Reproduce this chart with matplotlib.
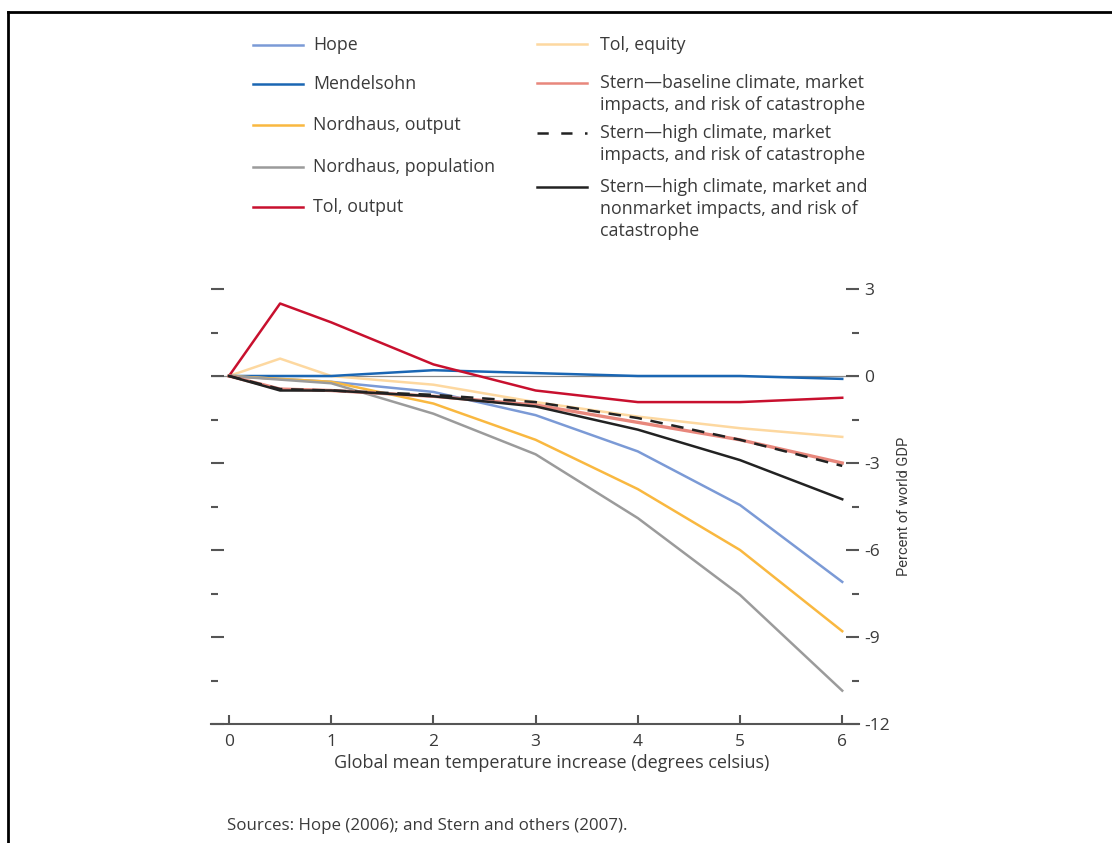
import matplotlib.pyplot as plt
from matplotlib.lines import Line2D
from matplotlib.ticker import MultipleLocator

plt.rcParams['font.family'] = ['Open Sans', 'DejaVu Sans']

# temperature points (degrees celsius)
temps = [0, 1, 2, 3, 4, 5, 6]
temps_half = [0, 0.5, 1, 2, 3, 4, 5, 6]

# percent of world GDP
hope = [0, -0.2, -0.55, -1.35, -2.6, -4.45, -7.1]
mendelsohn = [0, 0, 0.2, 0.1, 0, 0, -0.1]
nordhaus_output = [0, -0.2, -0.95, -2.2, -3.9, -6.0, -8.8]
nordhaus_population = [0, -0.25, -1.3, -2.7, -4.9, -7.55, -10.85]
tol_output = [0, 2.5, 1.85, 0.4, -0.5, -0.9, -0.9, -0.75]
tol_equity = [0, 0.6, 0, -0.3, -0.9, -1.4, -1.8, -2.1]
stern_baseline = [0, -0.45, -0.5, -0.7, -1.0, -1.6, -2.2, -3.0]
stern_high_market = [0, -0.45, -0.5, -0.65, -0.9, -1.45, -2.2, -3.1]
stern_high_nonmarket = [0, -0.5, -0.5, -0.7, -1.05, -1.85, -2.9, -4.25]

left_labels = ["Hope", "Mendelsohn", "Nordhaus, output", "Nordhaus, population", "Tol, output"]
right_labels = [
    "Tol, equity",
    "Stern\u2014baseline climate, market\nimpacts, and risk of catastrophe",
    "Stern\u2014high climate, market\nimpacts, and risk of catastrophe",
    "Stern\u2014high climate, market and\nnonmarket impacts, and risk of\ncatastrophe",
]

c_hope = "#7b9ad6"
c_mend = "#1a66b3"
c_nout = "#f9b840"
c_npop = "#9b9b9b"
c_tout = "#c8102e"
c_tequ = "#fdd8a0"
c_sbase = "#e8877c"
c_black = "#222222"
text_c = "#3a3a3a"

W, H = 1112, 843
fig = plt.figure(figsize=(W / 100, H / 100), dpi=100)

def fx(px):
    return px / W

def fy(py):
    return 1 - py / H

ax = fig.add_axes([fx(211), fy(724), fx(859) - fx(211), fy(289) - fy(724)])
ax.set_xlim(-0.176, 6.164)
ax.set_ylim(-12, 3)

lw = 1.8
ax.axhline(0, color="#8a8a8a", lw=0.9, zorder=1)
ax.plot(temps_half, tol_equity, color=c_tequ, lw=lw, zorder=2)
ax.plot(temps, mendelsohn, color=c_mend, lw=lw, zorder=3)
ax.plot(temps_half, tol_output, color=c_tout, lw=lw, zorder=3)
ax.plot(temps, hope, color=c_hope, lw=lw, zorder=3)
ax.plot(temps, nordhaus_output, color=c_nout, lw=lw, zorder=3)
ax.plot(temps, nordhaus_population, color=c_npop, lw=lw, zorder=3)
ax.plot(temps_half, stern_baseline, color=c_sbase, lw=lw + 0.6, zorder=4)
ax.plot(temps_half, stern_high_nonmarket, color=c_black, lw=lw, zorder=5)
ax.plot(temps_half, stern_high_market, color=c_black, lw=lw, ls=(0, (5, 3.5)), zorder=6)

for s in ["top", "left", "right"]:
    ax.spines[s].set_visible(False)
ax.spines["bottom"].set_color("#555555")
ax.spines["bottom"].set_linewidth(1.5)

ax.set_xticks(temps)
ax.tick_params(axis="x", direction="in", length=6.5, width=1.5, color="#555555",
               labelsize=12.5, labelcolor=text_c, pad=7)

ax.yaxis.set_major_locator(MultipleLocator(3))
ax.yaxis.set_minor_locator(MultipleLocator(1.5))
ax.tick_params(axis="y", which="both", direction="in", left=True, right=True,
               labelleft=False, labelright=True, width=1.5, color="#555555",
               labelsize=12.5, labelcolor=text_c, pad=4)
ax.tick_params(axis="y", which="major", length=9.5)
ax.tick_params(axis="y", which="minor", length=5)
ax.set_yticklabels([str(int(v)) for v in ax.get_yticks()])

fig.text(fx(552), fy(763), "Global mean temperature increase (degrees celsius)",
         ha="center", va="center", fontsize=13, color=text_c)

fig.text(fx(904), fy(506), "Percent of world GDP", rotation=90, ha="center", va="center",
         fontsize=10.5, color=text_c, family=["Roboto", "DejaVu Sans"])

# legend, drawn by hand in figure pixels
left_colors = [c_hope, c_mend, c_nout, c_npop, c_tout]
left_rows = [45, 84, 125, 167, 207]
for lab, col, row in zip(left_labels, left_colors, left_rows):
    fig.add_artist(Line2D([fx(253), fx(303)], [fy(row), fy(row)], color=col, lw=lw))
    fig.text(fx(313), fy(row), lab, ha="left", va="center", fontsize=12.8, color=text_c)

right_styles = [(c_tequ, "-"), (c_sbase, "-"), (c_black, (0, (4.5, 5))), (c_black, "-")]
right_rows = [44, 83, 133, 187]
for lab, (col, ls), row in zip(right_labels, right_styles, right_rows):
    fig.add_artist(Line2D([fx(537), fx(587)], [fy(row), fy(row)], color=col, lw=lw, ls=ls))
    fig.text(fx(600), fy(row) + 8.5 / H, lab, ha="left", va="top", fontsize=12.8,
             color=text_c, linespacing=1.25)

fig.text(fx(227), fy(826), "Sources: Hope (2006); and Stern and others (2007).",
         ha="left", va="center", fontsize=12.2, color=text_c)

# frame around the figure
fig.add_artist(Line2D([fx(8), 1.0], [fy(12), fy(12)], color="black", lw=2))
fig.add_artist(Line2D([fx(8), fx(8)], [fy(12), 0.0], color="black", lw=2))

fig.savefig("out.png", dpi=100)
